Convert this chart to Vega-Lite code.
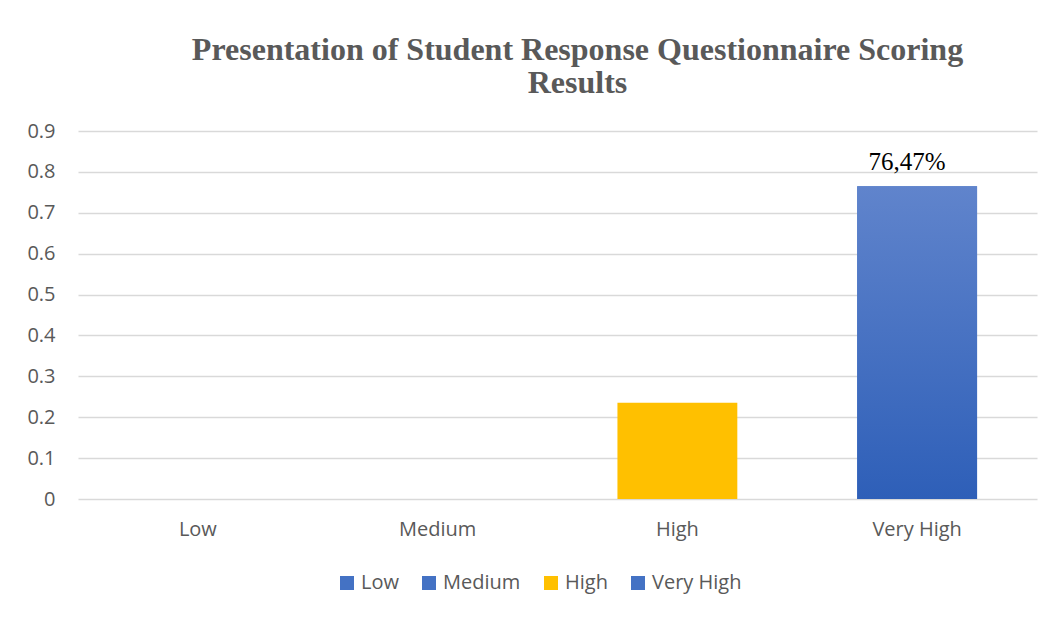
{
  "$schema": "https://vega.github.io/schema/vega-lite/v6.json",
  "autosize": "none",
  "width": 959,
  "height": 368,
  "padding": {"left": 78, "top": 131, "right": 19, "bottom": 119},
  "background": "white",
  "title": {
    "text": ["Presentation of Student Response Questionnaire Scoring", "Results"],
    "font": "Liberation Serif",
    "fontSize": 32,
    "fontWeight": "bold",
    "color": "#595959",
    "anchor": "middle",
    "dx": 20,
    "offset": 21,
    "lineHeight": 33
  },
  "data": {
    "values": [
      {"category": "Low", "value": 0, "label": ""},
      {"category": "Medium", "value": 0, "label": ""},
      {"category": "High", "value": 0.2353, "label": "23,53%"},
      {"category": "Very High", "value": 0.7647, "label": "76,47%"}
    ]
  },
  "config": {
    "view": {"stroke": null},
    "axis": {
      "labelFont": "Open Sans",
      "labelFontSize": 20,
      "labelColor": "#595959",
      "domain": false,
      "ticks": false,
      "title": null
    }
  },
  "layer": [
    {
      "mark": {"type": "bar"},
      "encoding": {
        "x": {
          "field": "category",
          "type": "nominal",
          "sort": ["Low", "Medium", "High", "Very High"],
          "scale": {"paddingInner": 0.5, "paddingOuter": 0.25},
          "axis": {"labelAngle": 0, "labelPadding": 20, "grid": false}
        },
        "y": {
          "field": "value",
          "type": "quantitative",
          "scale": {"domain": [0, 0.9], "nice": false},
          "axis": {"values": [0, 0.1, 0.2, 0.3, 0.4, 0.5, 0.6, 0.7, 0.8, 0.9], "format": "~g", "labelPadding": 23, "grid": true, "gridColor": "#D9D9D9", "gridWidth": 1.3}
        },
        "color": {
          "field": "category",
          "type": "nominal",
          "sort": ["Low", "Medium", "High", "Very High"],
          "scale": {
            "domain": ["Low", "Medium", "High", "Very High"],
            "range": ["#4472C4", "#4472C4", "#FFC000", "#4472C4"]
          },
          "legend": {
            "title": null,
            "orient": "none",
            "direction": "horizontal",
            "legendX": 259,
            "legendY": 442,
            "symbolType": "square",
            "symbolSize": 196,
            "symbolStrokeWidth": 0,
            "labelFont": "Open Sans",
            "labelFontSize": 20,
            "labelColor": "#595959",
            "columnPadding": 20,
            "labelOffset": 4
          }
        }
      }
    },
    {
      "transform": [{"filter": "datum.category != 'High'"}],
      "mark": {
        "type": "bar",
        "color": {"gradient": "linear", "x1": 0, "y1": 0, "x2": 0, "y2": 1, "stops": [{"offset": 0, "color": "#6084CC"}, {"offset": 1, "color": "#2E5FB8"}]}
      },
      "encoding": {
        "x": {"field": "category", "type": "nominal", "sort": ["Low", "Medium", "High", "Very High"]},
        "y": {"field": "value", "type": "quantitative"}
      }
    },
    {
      "transform": [{"filter": "datum.category == 'Very High'"}],
      "mark": {"type": "text", "font": "Liberation Serif", "fontSize": 25, "color": "#000000", "baseline": "alphabetic", "dx": -10, "dy": -16},
      "encoding": {
        "x": {"field": "category", "type": "nominal", "sort": ["Low", "Medium", "High", "Very High"]},
        "y": {"field": "value", "type": "quantitative"},
        "text": {"field": "label"}
      }
    }
  ]
}
